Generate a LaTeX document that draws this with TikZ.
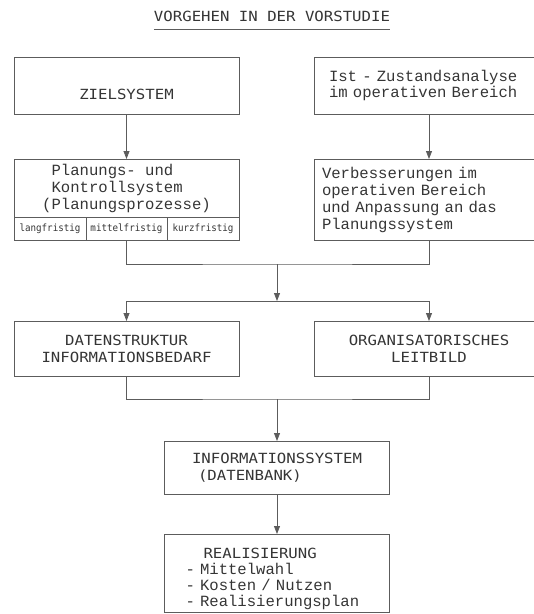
\documentclass[tikz,border=0pt]{standalone}
\usepackage{fontspec}
\usepackage{tikz}
\usetikzlibrary{positioning,arrows.meta}
\newfontfamily\typewriter{Liberation Mono}
\newfontfamily\ocrsans[FakeStretch=1.12]{DejaVu Sans Mono}
\newfontfamily\ocrsmall[FakeStretch=0.92]{DejaVu Sans Mono}
\newcommand\capsfont{\fontsize{14}{17}\selectfont\ocrsans}
\definecolor{ink}{HTML}{353535}
\definecolor{lineclr}{HTML}{5C5C5C}

\begin{document}
\begin{tikzpicture}[x=1pt,y=-1pt,
  box/.style={draw=lineclr,line width=0.8pt,outer sep=0pt,inner sep=0pt,minimum width=225pt,text=ink},
  capsbox/.style={box,font=\capsfont,align=center},
  monobox/.style={box,font=\fontsize{15.6}{17}\selectfont\typewriter},
  cell/.style={box,minimum height=23pt,font=\fontsize{10}{12}\selectfont\ocrsmall},
  flow/.style={draw=lineclr,line width=0.8pt,-{Triangle[length=8pt,width=6pt]}},
  joinline/.style={draw=lineclr,line width=0.8pt}]
\useasboundingbox (0,0) rectangle (534,614);

\node[text=ink,font=\capsfont,inner sep=0pt] (title) at (272,16) {VORGEHEN IN DER VORSTUDIE};
\draw[joinline] ([yshift=-8pt]title.south west) -- ([yshift=-8pt]title.south east);

\node[capsbox,minimum height=57pt] (ziel) at (126.5,85.5) {\rule{0pt}{29pt}ZIELSYSTEM};
\node[monobox,anchor=west,minimum height=57pt,text width=200pt,inner xsep=15pt,align=left,
  font=\fontsize{15.6}{14}\selectfont\typewriter] (ist) at (314,85.5)
  {Ist - Zustandsanalyse\\im operativen Bereich};

\node[monobox,minimum height=58pt,align=left] (plan) at (126.5,188)
  {~Planungs- und\\~Kontrollsystem\\(Planungsprozesse)};
\node[cell,minimum width=72pt,anchor=north west] (lang) at (plan.south west) {langfristig};
\node[cell,minimum width=81pt,right=0pt of lang] (mittel) {mittelfristig};
\node[cell,minimum width=72pt,right=0pt of mittel] (kurz) {kurzfristig};
\node[monobox,anchor=west,minimum height=81pt,text width=214pt,inner xsep=8pt,align=left] (verb) at (314,199.5)
  {Verbesserungen im\\operativen Bereich\\und Anpassung an das\\Planungssystem};

\node[capsbox,minimum height=55pt] (daten) at (126.5,348.5) {DATENSTRUKTUR\\INFORMATIONSBEDARF};
\node[capsbox,anchor=west,minimum height=55pt,minimum width=230pt] (org) at (314,348.5) {ORGANISATORISCHES\\LEITBILD};

\node[capsbox,minimum height=53pt,align=left] (info) at (277,467.5) {INFORMATIONSSYSTEM\\\hspace*{6pt}(DATENBANK)};
\node[monobox,minimum height=78pt,text width=183pt,inner xsep=21pt,align=left,
  font=\fontsize{15.6}{16}\selectfont\typewriter] (real) at (277,573)
  {{\capsfont\rule{0pt}{23pt}\hspace*{18pt}REALISIERUNG}\\- Mittelwahl\\- Kosten / Nutzen\\- Realisierungsplan};

\coordinate (j1) at (277,264);
\coordinate (j2) at (277,301);
\coordinate (j3) at (277,399);

\draw[flow] (ziel.south) -- (plan.north);
\draw[flow] (ist.south) -- (verb.north);
\draw[joinline] (mittel.south) |- (j1) -| (verb.south);
\draw[flow] (j1) -- (j2);
\draw[flow] (j2) -| (daten.north);
\draw[flow] (j2) -| (org.north);
\draw[joinline] (daten.south) |- (j3) -| (org.south);
\draw[flow] (j3) -- (info.north);
\draw[flow] (info.south) -- (real.north);
\end{tikzpicture}
\end{document}
